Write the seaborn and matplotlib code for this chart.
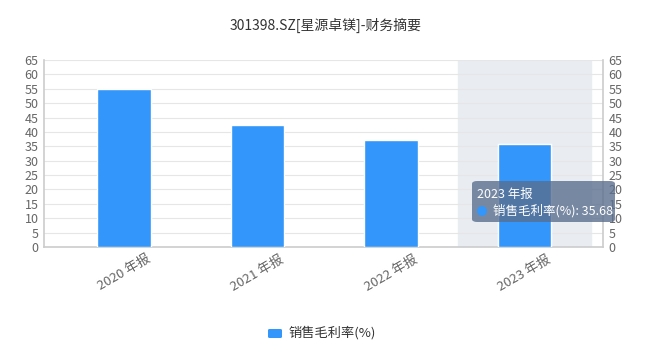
import matplotlib
matplotlib.use("Agg")
import matplotlib.pyplot as plt
import seaborn as sns
import pandas as pd
from matplotlib.patches import FancyBboxPatch, Ellipse

categories = ["2020 年报", "2021 年报", "2022 年报", "2023 年报"]
values = [54.9, 42.4, 37.2, 35.68]
series_name = "销售毛利率(%)"
title = "301398.SZ[星源卓镁]-财务摘要"
yticks = list(range(0, 70, 5))

sns.set_theme(style="white")
plt.rcParams['font.family'] = ['Noto Sans CJK SC', 'DejaVu Sans']

df = pd.DataFrame({"cat": categories, "val": values})

fig = plt.figure(figsize=(6.52, 3.53), dpi=100)
ax = fig.add_axes([44/652, 1-247/353, (603-44)/652, (247-60)/353])

bar_color = "#3296fa"
ax.axvspan(2.5, 3.5, color="#e9edf2", zorder=0)
sns.barplot(data=df, x="cat", y="val", color=bar_color, width=0.4, ax=ax,
            saturation=1, zorder=3)

ax.set_xlim(-0.6, 3.59)
ax.set_ylim(0, 65)
ax.set_yticks(yticks)
ax.yaxis.grid(True, color="#e6e6e6", linewidth=0.8, zorder=1)
ax.set_axisbelow(True)
ax.set_xlabel("")
ax.set_ylabel("")
ax.tick_params(axis="y", length=0, labelsize=9, labelcolor="#666666", pad=4)
ax.tick_params(axis="x", length=0, labelsize=9.5, labelcolor="#666666", pad=4)
for lab in ax.get_xticklabels():
    lab.set_rotation(30)
    lab.set_ha("center")

ax.spines["top"].set_visible(False)
for s in ["left", "right", "bottom"]:
    ax.spines[s].set_color("#cccccc")
    ax.spines[s].set_linewidth(1.2)

ax2 = ax.twinx()
ax2.set_ylim(0, 65)
ax2.set_yticks(yticks)
ax2.tick_params(axis="y", length=0, labelsize=9, labelcolor="#666666", pad=4)
for s in ["top", "left", "bottom", "right"]:
    ax2.spines[s].set_visible(False)
ax2.grid(False)

fig.text(0.5, 1-25/353, title, ha="center", va="center", fontsize=10, color="#333333")

# tooltip
tx0, ty0, tw, th = 472/652, 1-222/353, (615-472)/652, (222-181)/353
box = FancyBboxPatch((tx0, ty0), tw, th, boxstyle="round,pad=0,rounding_size=0.008",
                     transform=fig.transFigure, facecolor="#5b6f8e", alpha=0.8,
                     edgecolor="none", zorder=10)
fig.patches.append(box)
fig.text(477/652, 1-194/353, categories[3], color="white", fontsize=9, va="center", zorder=11)
fig.patches.append(Ellipse((482/652, 1-211/353), 10/652, 10/353,
                   transform=fig.transFigure, facecolor=bar_color, edgecolor="none", zorder=11))
fig.text(493/652, 1-211/353, f"{series_name}: {values[3]:.2f}", color="white",
         fontsize=9, va="center", zorder=11, fontweight="medium")

# legend
fig.patches.append(FancyBboxPatch((268/652, 1-338/353), 14/652, 9/353,
                   boxstyle="round,pad=0,rounding_size=0.003", transform=fig.transFigure,
                   facecolor=bar_color, edgecolor="none"))
fig.text(288/652, 1-333/353, series_name, color="#333333", fontsize=9.5, va="center")

fig.savefig("out.png", dpi=100, facecolor="white")
